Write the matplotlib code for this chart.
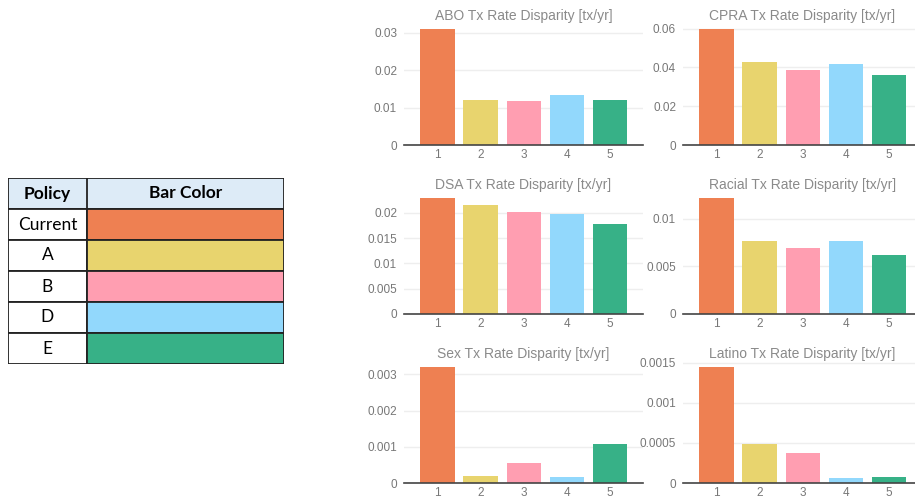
import numpy as np
import matplotlib.pyplot as plt
from matplotlib.patches import Rectangle
from matplotlib.ticker import MultipleLocator, FuncFormatter

# policies and their bar colours
policies = ['Current', 'A', 'B', 'D', 'E']
bar_colors = ['#EE8052', '#E8D46E', '#FF9EB1', '#92D8FC', '#37B187']
positions = [1, 2, 3, 4, 5]

titles = [
    'ABO Tx Rate Disparity [tx/yr]',
    'CPRA Tx Rate Disparity [tx/yr]',
    'DSA Tx Rate Disparity [tx/yr]',
    'Racial Tx Rate Disparity [tx/yr]',
    'Sex Tx Rate Disparity [tx/yr]',
    'Latino Tx Rate Disparity [tx/yr]',
]

abo = [0.0310, 0.0121, 0.0118, 0.0133, 0.0121]
cpra = [0.0599, 0.0427, 0.0385, 0.0419, 0.0359]
dsa = [0.0230, 0.0215, 0.0201, 0.0198, 0.0178]
racial = [0.0122, 0.0077, 0.0069, 0.0077, 0.0062]
sex = [0.00321, 0.00020, 0.00055, 0.000165, 0.00108]
latino = [0.00145, 0.00049, 0.00038, 0.000065, 0.000075]

tick_steps = [0.01, 0.02, 0.005, 0.005, 0.001, 0.0005]
all_values = [abo, cpra, dsa, racial, sex, latino]

fig = plt.figure(figsize=(9.15, 5.0), dpi=100)

W, H = 915, 500
col_left = [404, 683]
ax_w = 239
row_zero = [145, 314, 483]
ax_h = 122

for i, (title, vals, step) in enumerate(zip(titles, all_values, tick_steps)):
    r, c = divmod(i, 2)
    ax = fig.add_axes([col_left[c] / W, 1 - row_zero[r] / H, ax_w / W, ax_h / H])
    ax.bar(positions, vals, width=0.8, color=bar_colors, zorder=2)
    ax.set_xlim(0.225, 5.76)
    ax.set_ylim(0, max(vals) * 1.05)
    ax.yaxis.set_major_locator(MultipleLocator(step))
    ax.yaxis.set_major_formatter(FuncFormatter(lambda v, p: f'{round(v, 6):g}'))
    ax.set_xticks(positions)
    ax.grid(axis='y', color='#eeeeee', linewidth=1, zorder=0)
    for s in ['top', 'left', 'right']:
        ax.spines[s].set_visible(False)
    ax.spines['bottom'].set_color('#444444')
    ax.spines['bottom'].set_linewidth(1.2)
    ax.spines['bottom'].set_zorder(3)
    ax.tick_params(axis='both', length=0, labelsize=8.5, colors='#777777',
                   labelfontfamily='Liberation Sans')
    ax.tick_params(axis='y', pad=5)
    ax.tick_params(axis='x', pad=3)
    ax.set_title(title, fontsize=10, color='#8a8a8a', family='Liberation Sans', pad=1)

# legend table on the left
tab = fig.add_axes([8 / W, 1 - 364 / H, 276 / W, 186 / H])
tab.set_xlim(0, 1)
tab.set_ylim(len(policies) + 1, 0)
tab.axis('off')
split = 0.286
tab.add_patch(Rectangle((0, 0), 1, 1, facecolor='#DDEBF7', edgecolor='#222222', lw=1.3))
tab.plot([split, split], [0, 1], color='#222222', lw=1.3)
tab.text(split / 2, 0.5, 'Policy', ha='center', va='center', fontsize=12.5,
         fontweight='bold', family='Lato')
tab.text((1 + split) / 2, 0.5, 'Bar Color', ha='center', va='center', fontsize=12.5,
         fontweight='bold', family='Lato')
for j, (name, col) in enumerate(zip(policies, bar_colors)):
    y = j + 1
    tab.add_patch(Rectangle((0, y), split, 1, facecolor='white', edgecolor='#222222', lw=1.3))
    tab.add_patch(Rectangle((split, y), 1 - split, 1, facecolor=col, edgecolor='#222222', lw=1.3))
    tab.text(split / 2, y + 0.5, name, ha='center', va='center', fontsize=12.5, family='Lato')

fig.savefig('out.png', dpi=100)
